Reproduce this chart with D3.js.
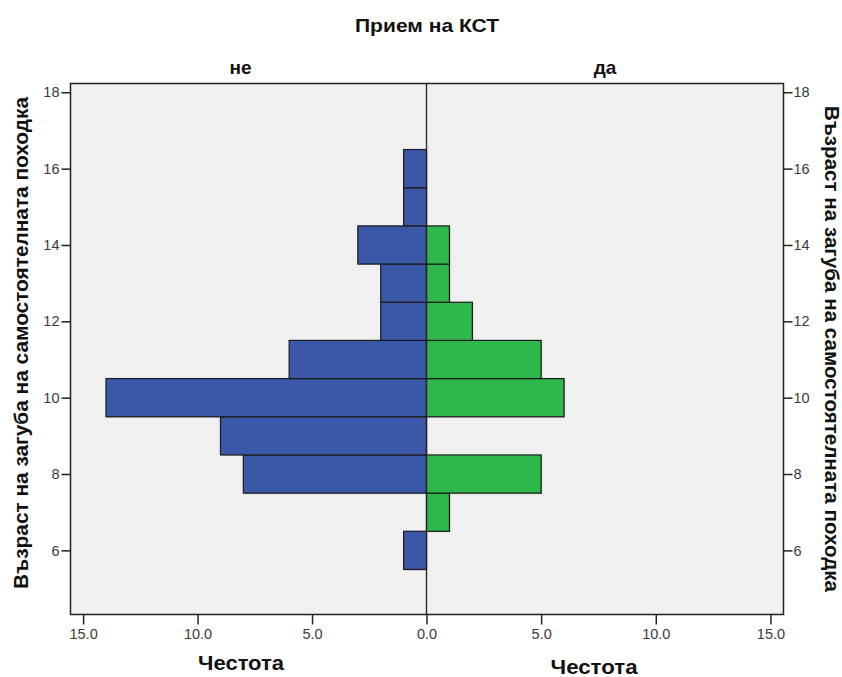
<!DOCTYPE html>
<html>
<head>
<meta charset="utf-8">
<script src="https://cdn.jsdelivr.net/npm/d3@7"></script>
<style>
  body { margin: 0; background: #fff; }
  svg { display: block; }
  .tick text { font-family: "Liberation Sans", Arial, sans-serif; font-size: 14.5px; fill: #3a3a3a; }
  .tick line, .domain { stroke: #222; }
</style>
</head>
<body>
<svg></svg>
<script>
const ages = [6, 7, 8, 9, 10, 11, 12, 13, 14, 15, 16];
const countNe = [1, 0, 8, 9, 14, 6, 2, 2, 3, 1, 1];
const countDa = [0, 1, 5, 0, 6, 5, 2, 1, 1, 0, 0];
const yTicks = [6, 8, 10, 12, 14, 16, 18];
const xTicks = [0, 5, 10, 15];

const width = 842, height = 677;
const plotL = 70.5, plotM = 426.5, plotR = 783.5, plotT = 83.5, plotB = 614.5;

const svg = d3.select("svg").attr("width", width).attr("height", height);

const y = d3.scaleLinear().domain([4.32, 18.23]).range([plotB, plotT]);
const xL = d3.scaleLinear().domain([15.55, 0]).range([plotL, plotM]);
const xR = d3.scaleLinear().domain([0, 15.57]).range([plotM, plotR]);

// plot background
svg.append("rect")
    .attr("x", plotL).attr("y", plotT)
    .attr("width", plotR - plotL).attr("height", plotB - plotT)
    .attr("fill", "#f0f0f0");

function bars(data, x, color, side) {
    const rows = ages.map((a, i) => ({ age: a, n: data[i] })).filter(d => d.n > 0);
    const g = svg.append("g");
    // soft shadow
    g.selectAll(".sh").data(rows).enter().append("rect")
        .attr("x", d => side < 0 ? x(d.n) + 1 : x(0) + 1)
        .attr("y", d => y(d.age + 0.5) + 1)
        .attr("width", d => Math.abs(x(d.n) - x(0)))
        .attr("height", d => y(d.age - 0.5) - y(d.age + 0.5))
        .attr("fill", "#000").attr("opacity", 0.18);
    g.selectAll(".bar").data(rows).enter().append("rect")
        .attr("x", d => side < 0 ? x(d.n) : x(0))
        .attr("y", d => y(d.age + 0.5))
        .attr("width", d => Math.abs(x(d.n) - x(0)))
        .attr("height", d => y(d.age - 0.5) - y(d.age + 0.5))
        .attr("fill", color)
        .attr("stroke", "#1a1a1a").attr("stroke-width", 1.2);
}
bars(countNe, xL, "#3b57a8", -1);
bars(countDa, xR, "#2eb84b", 1);

// center line
svg.append("line")
    .attr("x1", plotM).attr("x2", plotM).attr("y1", plotT).attr("y2", plotB)
    .attr("stroke", "#222").attr("stroke-width", 1.3);

// frame
svg.append("rect")
    .attr("x", plotL).attr("y", plotT)
    .attr("width", plotR - plotL).attr("height", plotB - plotT)
    .attr("fill", "none").attr("stroke", "#222").attr("stroke-width", 1.5);

// axes
const fmt = d3.format(".1f");
svg.append("g").attr("transform", `translate(${plotL},0)`)
    .call(d3.axisLeft(y).tickValues(yTicks).tickSize(9).tickPadding(2))
    .call(g => g.select(".domain").remove());
svg.append("g").attr("transform", `translate(${plotR},0)`)
    .call(d3.axisRight(y).tickValues(yTicks).tickSize(9).tickPadding(1))
    .call(g => g.select(".domain").remove());
svg.append("g").attr("transform", `translate(0,${plotB})`)
    .call(d3.axisBottom(xL).tickValues(xTicks).tickFormat(fmt).tickSize(10).tickPadding(4))
    .call(g => g.select(".domain").remove());
svg.append("g").attr("transform", `translate(0,${plotB})`)
    .call(d3.axisBottom(xR).tickValues(xTicks.slice(1)).tickFormat(fmt).tickSize(10).tickPadding(4))
    .call(g => g.select(".domain").remove());
svg.selectAll(".tick line").attr("stroke-width", 1.5);

// titles
const font = "Liberation Sans, Arial, sans-serif";
function label(text, x, yy, size, len, rot) {
    const t = svg.append("text")
        .attr("transform", `translate(${x},${yy})` + (rot ? ` rotate(${rot})` : ""))
        .attr("text-anchor", "middle")
        .attr("font-family", font).attr("font-weight", "bold")
        .attr("font-size", size).attr("fill", "#111")
        .text(text);
    if (len) t.attr("textLength", len).attr("lengthAdjust", "spacingAndGlyphs");
    return t;
}
label("Прием на КСТ", 427, 32, 19, 144);
label("не", (plotL + plotM) / 2 - 8, 74, 19);
label("да", (plotM + plotR) / 2, 74, 19);
label("Честота", 241, 670, 20, 86);
label("Честота", 594, 674, 20, 87);
label("Възраст на загуба на самостоятелната походка", 28, 343, 19.5, 492, -90);
label("Възраст на загуба на самостоятелната походка", 825, 349, 19.5, 486, 90);
</script>
</body>
</html>
